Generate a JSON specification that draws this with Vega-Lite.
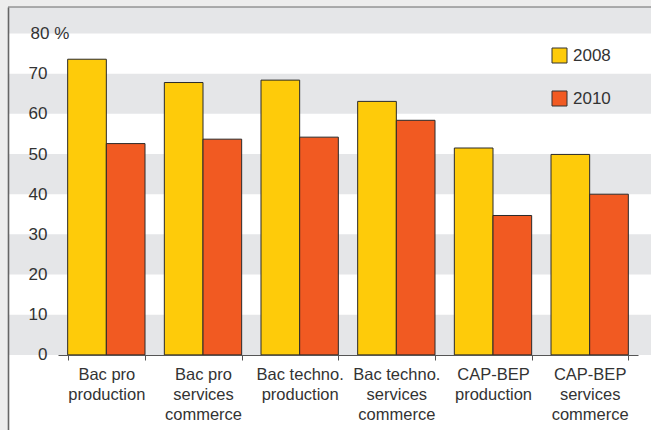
{
  "$schema": "https://vega.github.io/schema/vega-lite/v6.json",
  "width": 643,
  "height": 423,
  "autosize": "none",
  "padding": {"left": 8, "top": 7, "right": 0, "bottom": 0},
  "background": "#ededed",
  "config": {
    "view": {"stroke": null, "fill": "#ffffff"},
    "font": "Liberation Sans, Arial, sans-serif"
  },
  "datasets": {
    "bars": [
      {"cat": "Bac pro|production", "year": "2008", "value": 73.6},
      {"cat": "Bac pro|production", "year": "2010", "value": 52.6},
      {"cat": "Bac pro|services|commerce", "year": "2008", "value": 67.8},
      {"cat": "Bac pro|services|commerce", "year": "2010", "value": 53.7},
      {"cat": "Bac techno.|production", "year": "2008", "value": 68.4},
      {"cat": "Bac techno.|production", "year": "2010", "value": 54.2},
      {"cat": "Bac techno.|services|commerce", "year": "2008", "value": 63.1},
      {"cat": "Bac techno.|services|commerce", "year": "2010", "value": 58.4},
      {"cat": "CAP-BEP|production", "year": "2008", "value": 51.5},
      {"cat": "CAP-BEP|production", "year": "2010", "value": 34.7},
      {"cat": "CAP-BEP|services|commerce", "year": "2008", "value": 49.9},
      {"cat": "CAP-BEP|services|commerce", "year": "2010", "value": 40.0}
    ],
    "bands": [
      {"value": 0, "hi": 10},
      {"value": 20, "hi": 30},
      {"value": 40, "hi": 50},
      {"value": 60, "hi": 70},
      {"value": 80, "hi": 86.6}
    ],
    "frame": [{"value": 86.6}]
  },
  "encoding": {
    "y": {
      "field": "value",
      "type": "quantitative",
      "scale": {"domain": [-18.7, 86.6], "nice": false, "zero": false},
      "axis": {
        "title": null,
        "zindex": 1,
        "values": [0, 10, 20, 30, 40, 50, 60, 70, 80],
        "labelExpr": "datum.value == 80 ? '80 %' : datum.label",
        "grid": false,
        "ticks": false,
        "tickSize": 0,
        "domain": true,
        "domainColor": "#666666",
        "domainWidth": 1.6,
        "labelFontSize": 17,
        "labelColor": "#333333",
        "labelBaseline": "middle",
        "labelAlign": {"condition": {"test": "datum.value == 80", "value": "left"}, "value": "right"},
        "labelPadding": {"condition": {"test": "datum.value == 80", "value": -22}, "value": -39}
      }
    }
  },
  "layer": [
    {
      "data": {"name": "bands"},
      "mark": {"type": "rect", "color": "#e5e6e8"},
      "encoding": {"y2": {"field": "hi"}}
    },
    {
      "data": {"name": "frame"},
      "mark": {"type": "rule", "color": "#6b6b6b", "strokeWidth": 1.2},
      "encoding": {}
    },
    {
      "data": {"name": "bars"},
      "mark": {"type": "bar", "stroke": "#2a2a2a", "strokeWidth": 1},
      "encoding": {
        "x": {
          "field": "cat",
          "type": "nominal",
          "sort": null,
          "scale": {"range": [50, 630], "paddingInner": 0.2, "paddingOuter": 0.1},
          "axis": {
            "title": null,
            "zindex": 1,
            "labelAngle": 0,
            "labelExpr": "split(datum.label, '|')",
            "tickBand": "extent",
            "tickSize": 5,
            "tickColor": "#555555",
            "domainColor": "#555555",
            "offset": -75,
            "labelPadding": 6,
            "labelFontSize": 16.5,
            "labelLineHeight": 20,
            "labelBaseline": "top",
            "labelColor": "#333333",
            "labelLimit": 300
          }
        },
        "xOffset": {"field": "year", "type": "nominal"},
        "y2": {"datum": 0},
        "color": {
          "field": "year",
          "type": "nominal",
          "scale": {"domain": ["2008", "2010"], "range": ["#fecb0a", "#f15a22"]},
          "legend": {
            "title": null,
            "orient": "none",
            "legendX": 543,
            "legendY": 40,
            "padding": 0,
            "symbolType": "square",
            "symbolSize": 225,
            "symbolStrokeColor": "#333333",
            "symbolStrokeWidth": 1,
            "labelFontSize": 17,
            "labelColor": "#333333",
            "labelOffset": 5,
            "rowPadding": 24
          }
        }
      }
    }
  ]
}
